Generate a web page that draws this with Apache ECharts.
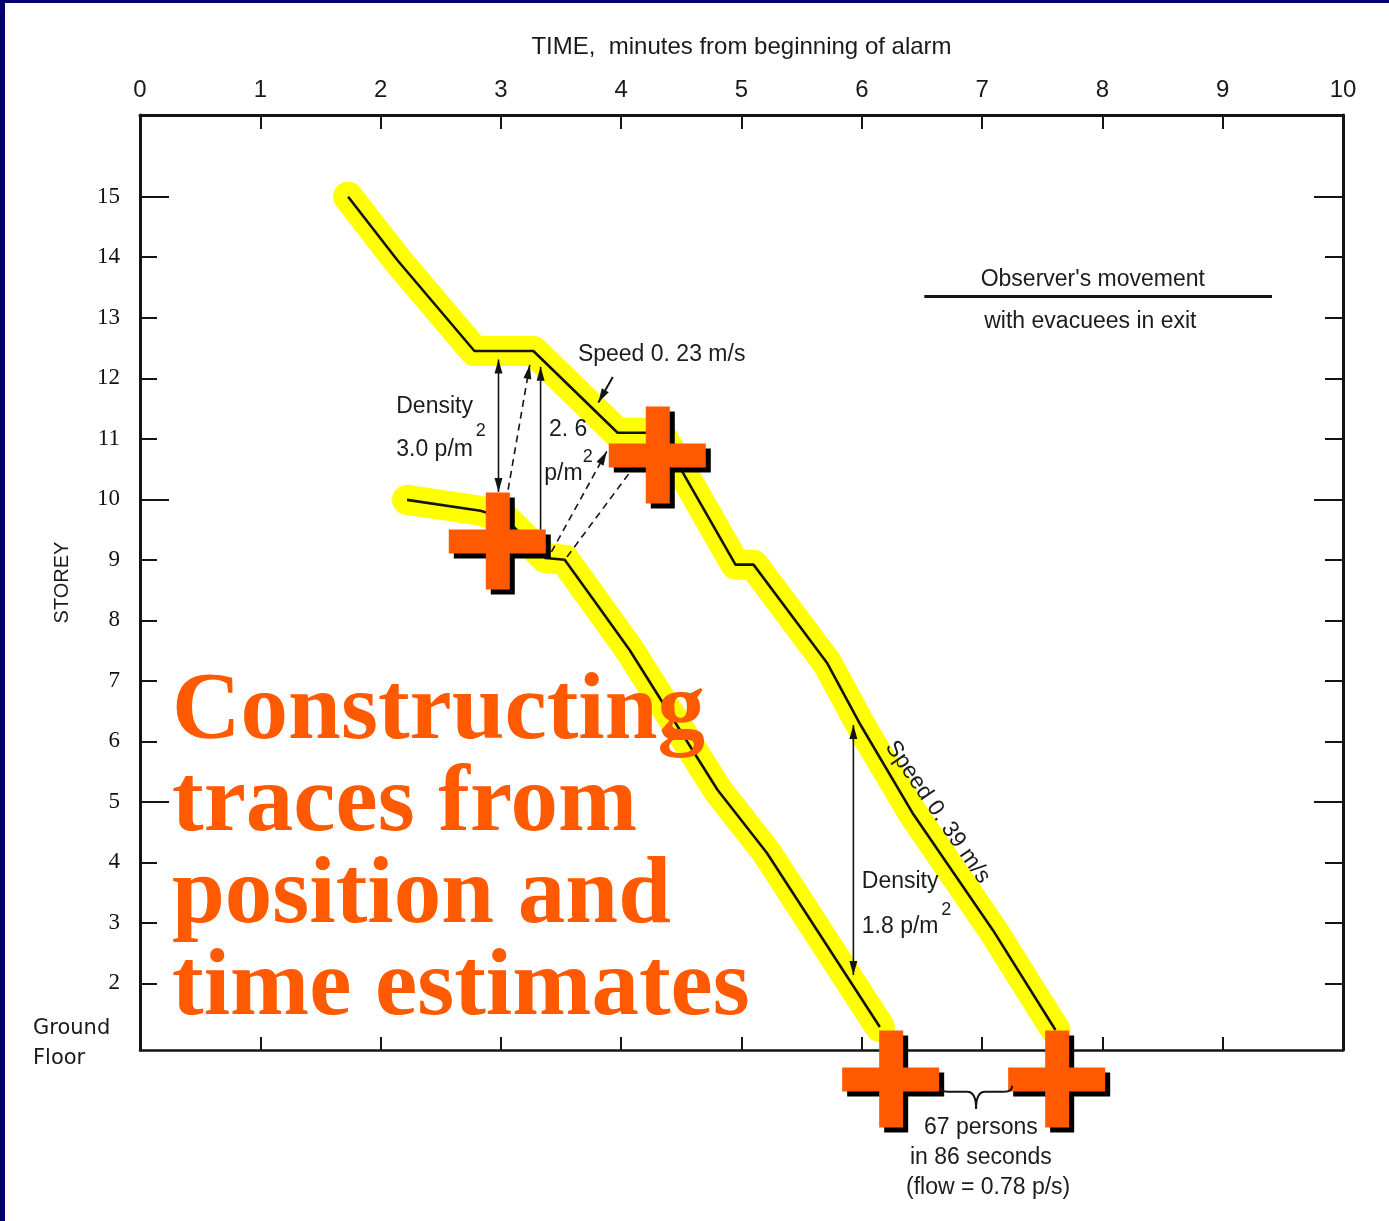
<!DOCTYPE html>
<html>
<head>
<meta charset="utf-8">
<script src="https://cdn.jsdelivr.net/npm/echarts@6/dist/echarts.min.js"></script>
<style>
html,body{margin:0;padding:0;background:#fff;}
#c{width:1389px;height:1221px;}
</style>
</head>
<body>
<div id="c"></div>
<script>
// ---- data (time in minutes, storey) ----
const timeTicks = [0,1,2,3,4,5,6,7,8,9,10];
const storeyTicks = [2,3,4,5,6,7,8,9,10,11,12,13,14,15];
const storeyLabels = [1,2,3,4,5,6,7,8,9,10,11,12,13,14,15];
const majorStoreys = [5,10,15];

const upperTime   = [1.73, 2.14, 2.78, 3.27, 3.97, 4.32, 4.51, 4.95, 5.10, 5.71, 5.99, 6.43, 7.09, 7.61];
const upperStorey = [15.0, 13.95, 12.45, 12.45, 11.1, 11.1, 10.45, 8.92, 8.92, 7.30, 6.27, 4.79, 2.88, 1.23];

const lowerTime   = [2.22, 2.83, 3.03, 3.37, 3.53, 3.77, 4.07, 4.80, 5.21, 6.15];
const lowerStorey = [9.99, 9.81, 9.69, 9.03, 9.00, 8.34, 7.51, 5.20, 4.16, 1.28];

const crossTime   = [2.97, 4.30, 6.24, 7.62];
const crossStorey = [9.31, 10.73, 0.42, 0.42];

const zip = (a, b) => a.map((v, i) => [v, b[i]]);

const SANS = '"Liberation Sans", Arial, sans-serif';
const SERIF = '"Liberation Serif", "Times New Roman", serif';
const INK = '#141414';
const ORANGE = '#ff5a00';

const chart = echarts.init(document.getElementById('c'), null, {renderer: 'canvas'});

const yBase = {
  type: 'value', min: 0.9, max: 16.35,
  splitLine: {show: false}, nameMoveOverlap: false
};
const xBase = {
  type: 'value', min: 0, max: 10, interval: 1,
  splitLine: {show: false}, nameMoveOverlap: false
};

const option = {
  animation: false,
  backgroundColor: '#ffffff',
  grid: {left: 140, right: 46, top: 115, bottom: 171, containLabel: false, outerBoundsMode: 'none'},
  xAxis: [
    Object.assign({}, xBase, {
      position: 'top',
      axisLine: {show: true, lineStyle: {color: INK, width: 3}},
      axisTick: {show: true, inside: true, length: 14, lineStyle: {color: INK, width: 2}},
      axisLabel: {show: true, margin: 13, fontFamily: SANS, fontSize: 24, color: '#1a1a1a',
        formatter: v => String(v)},
      name: 'TIME,  minutes from beginning of alarm',
      nameLocation: 'middle', nameGap: 56,
      nameTextStyle: {fontFamily: SANS, fontSize: 24, color: '#1a1a1a'}
    }),
    Object.assign({}, xBase, {
      position: 'bottom',
      axisLine: {show: true, lineStyle: {color: INK, width: 2.5}},
      axisTick: {show: true, inside: true, length: 13, lineStyle: {color: INK, width: 2}},
      axisLabel: {show: false}
    })
  ],
  yAxis: [
    Object.assign({}, yBase, {
      position: 'left',
      axisLine: {show: true, lineStyle: {color: INK, width: 3}},
      axisTick: {show: true, inside: true, length: 17, customValues: storeyTicks, lineStyle: {color: INK, width: 2}},
      axisLabel: {show: true, margin: 20, customValues: storeyLabels,
        fontFamily: SERIF, fontSize: 23, color: '#111',
        formatter: v => v === 1 ? '{g|Ground\nFloor}' : String(v),
        rich: {g: {fontFamily: '"DejaVu Sans", sans-serif', fontSize: 21, color: '#1a1a1a', width: 87, align: 'left', lineHeight: 30}}
      },
      name: 'STOREY', nameLocation: 'middle', nameGap: 68, nameRotate: 90,
      nameTextStyle: {fontFamily: SANS, fontSize: 20, color: '#1a1a1a'}
    }),
    Object.assign({}, yBase, {
      position: 'left',
      axisLine: {show: false},
      axisTick: {show: true, inside: true, length: 29, customValues: majorStoreys, lineStyle: {color: INK, width: 2}},
      axisLabel: {show: false}
    }),
    Object.assign({}, yBase, {
      position: 'right',
      axisLine: {show: true, lineStyle: {color: INK, width: 3}},
      axisTick: {show: true, inside: true, length: 18, customValues: storeyTicks, lineStyle: {color: INK, width: 2}},
      axisLabel: {show: false}
    }),
    Object.assign({}, yBase, {
      position: 'right',
      axisLine: {show: false},
      axisTick: {show: true, inside: true, length: 29, customValues: majorStoreys, lineStyle: {color: INK, width: 2}},
      axisLabel: {show: false}
    })
  ],
  series: [
    {type: 'line', name: 'upper-highlight', data: zip(upperTime, upperStorey), symbol: 'none', silent: true, z: 1,
      lineStyle: {color: '#ffff00', width: 30, cap: 'round', join: 'round'}},
    {type: 'line', name: 'lower-highlight', data: zip(lowerTime, lowerStorey), symbol: 'none', silent: true, z: 1,
      lineStyle: {color: '#ffff00', width: 30, cap: 'round', join: 'round'}},
    {type: 'line', name: 'Observer (upper)', data: zip(upperTime, upperStorey), symbol: 'none', silent: true, z: 3,
      lineStyle: {color: INK, width: 2.6, join: 'round'}},
    {type: 'line', name: 'Observer (lower)', data: zip(lowerTime, lowerStorey), symbol: 'none', silent: true, z: 3,
      lineStyle: {color: INK, width: 2.6, join: 'round'}},
    {type: 'scatter', name: 'estimates', data: zip(crossTime, crossStorey), clip: false, silent: true, z: 20,
      symbol: 'path://M37,0 L61,0 L61,37 L97,37 L97,61 L61,61 L61,97 L37,97 L37,61 L0,61 L0,37 L37,37 Z',
      symbolSize: 97,
      itemStyle: {color: ORANGE, opacity: 1, shadowColor: '#000', shadowBlur: 0, shadowOffsetX: 5, shadowOffsetY: 5}}
  ]
};
chart.setOption(option);

// ---- annotations placed through the axes ----
const P = (t, s) => chart.convertToPixel({xAxisIndex: 0, yAxisIndex: 0}, [t, s]);
const els = [];
function seg(a, b, dashed, w) {
  els.push({type: 'line', z: 50, silent: true,
    shape: {x1: a[0], y1: a[1], x2: b[0], y2: b[1]},
    style: {stroke: INK, lineWidth: w || 1.6, lineDash: dashed ? [7, 5] : null}});
}
function head(tip, from) {
  const dx = tip[0] - from[0], dy = tip[1] - from[1];
  const L = Math.hypot(dx, dy), ux = dx / L, uy = dy / L;
  const len = 14, hw = 4;
  const bx = tip[0] - ux * len, by = tip[1] - uy * len;
  els.push({type: 'polygon', z: 51, silent: true,
    shape: {points: [tip, [bx - uy * hw, by + ux * hw], [bx + uy * hw, by - ux * hw]]},
    style: {fill: INK}});
}
function curve(p1, c, p2) {
  els.push({type: 'bezierCurve', z: 50, silent: true,
    shape: {x1: p1[0], y1: p1[1], cpx1: c[0], cpy1: c[1], x2: p2[0], y2: p2[1]},
    style: {stroke: INK, lineWidth: 2, fill: null}});
}
function txt(str, p, opt) {
  opt = opt || {};
  els.push({type: 'text', z: 60, silent: true, x: p[0], y: p[1], rotation: opt.rot || 0,
    style: {text: str, fill: opt.fill || '#1c1c1c',
      font: opt.font || ('23px ' + SANS),
      textAlign: opt.align || 'left', align: opt.align || 'left',
      textVerticalAlign: opt.va || 'middle', verticalAlign: opt.va || 'middle'}});
}

// density 3.0 double arrow
let a = P(2.98, 12.31), b = P(2.98, 10.12);
seg(a, b); head(a, b); head(b, a);
// dashed 1
a = P(3.06, 10.16); b = P(3.24, 12.22);
seg(a, b, true); head(b, a);
// 2.6 arrow
a = P(3.33, 9.50); b = P(3.33, 12.19);
seg(a, b); head(b, a);
// dashed 2 and 3
a = P(3.42, 9.13); b = P(3.88, 10.79);
seg(a, b, true); head(b, a);
a = P(3.55, 9.05); b = P(4.10, 10.52);
seg(a, b, true);
// speed 0.23 pointer
a = P(3.93, 12.02); b = P(3.81, 11.60);
seg(a, b, false, 2); head(b, a);
// density 1.8 double arrow
a = P(5.93, 6.27); b = P(5.93, 2.14);
seg(a, b); head(a, b); head(b, a);

// texts
txt('Speed 0. 23 m/s', P(3.64, 12.39));
txt('Density', P(2.13, 11.53));
txt('3.0 p/m', P(2.13, 10.82));
txt('2', P(2.79, 11.12), {font: '18px ' + SANS});
txt('2. 6', P(3.40, 11.15));
txt('p/m', P(3.36, 10.42));
txt('2', P(3.68, 10.70), {font: '18px ' + SANS});
txt('Density', P(6.00, 3.68));
txt('1.8 p/m', P(6.00, 2.93));
txt('2', P(6.66, 3.21), {font: '18px ' + SANS});
txt('Speed 0. 39 m/s', P(6.63, 4.83), {align: 'center', rot: -0.967});

txt("Observer's movement", P(7.92, 13.63), {align: 'center'});
a = P(6.52, 13.35); b = P(9.41, 13.35);
seg(a, b, false, 3);
txt('with evacuees in exit', P(7.90, 12.93), {align: 'center'});

txt('67 persons', P(6.99, -0.39), {align: 'center'});
txt('in 86 seconds', P(6.99, -0.88), {align: 'center'});
txt('(flow = 0.78 p/s)', P(7.05, -1.38), {align: 'center'});

// brace under the gap between the two exits
const BL = P(6.65, 0.21), BR = P(7.25, 0.21), BC = P(6.95, -0.07);
const by0 = BL[1];
curve([BL[0], by0 - 6], [BL[0], by0], [BL[0] + 8, by0]);
seg([BL[0] + 8, by0], [BC[0] - 9, by0], false, 2);
curve([BC[0] - 9, by0], [BC[0], by0], [BC[0], BC[1]]);
curve([BC[0], BC[1]], [BC[0], by0], [BC[0] + 9, by0]);
seg([BC[0] + 9, by0], [BR[0] - 8, by0], false, 2);
curve([BR[0] - 8, by0], [BR[0], by0], [BR[0], by0 - 6]);

// big orange caption
els.push({type: 'text', z: 100, silent: true, left: 172, top: 666,
  style: {text: 'Constructing\ntraces from\nposition and\ntime estimates',
    font: 'bold 95px ' + SERIF, fill: ORANGE, lineHeight: 92}});

// navy frame strips
els.push({type: 'rect', z: 200, silent: true, shape: {x: 0, y: 0, width: 1389, height: 3}, style: {fill: '#03036b'}});
els.push({type: 'rect', z: 200, silent: true, shape: {x: 0, y: 0, width: 5, height: 1221}, style: {fill: '#03036b'}});

chart.setOption({graphic: {elements: els}});
</script>
</body>
</html>
